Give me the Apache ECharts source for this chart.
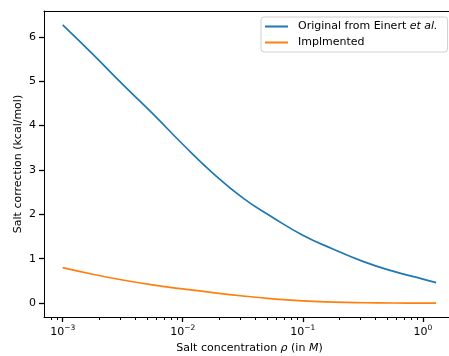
<!DOCTYPE html>
<html>
<head>
<meta charset="utf-8">
<script src="https://cdn.jsdelivr.net/npm/echarts@6/dist/echarts.min.js"></script>
<style>
html,body{margin:0;padding:0;background:#fff;}
#chart{width:449px;height:356px;}
</style>
</head>
<body>
<div id="chart"></div>
<script>
// Salt concentration (M)
const concentration = [0.001, 0.00178, 0.00316, 0.00562, 0.01, 0.0178, 0.0316, 0.0562, 0.1, 0.178, 0.316, 0.562, 1.0, 1.29];
// Salt correction (kcal/mol)
const originalEinert = [6.27, 5.61, 4.93, 4.27, 3.58, 2.93, 2.37, 1.93, 1.53, 1.22, 0.94, 0.72, 0.54, 0.46];
const implemented = [0.80, 0.65, 0.52, 0.41, 0.32, 0.235, 0.16, 0.097, 0.048, 0.022, 0.008, 0.002, 0.0, 0.0];
const seriesNames = ['Original from Einert et al.', 'Implmented'];
const xMajorTicks = [0.001, 0.01, 0.1, 1];
const xTickExponents = ['−3', '−2', '−1', '0'];
const xMinorTicks = [0.0008, 0.0009,
  0.002, 0.003, 0.004, 0.005, 0.006, 0.007, 0.008, 0.009,
  0.02, 0.03, 0.04, 0.05, 0.06, 0.07, 0.08, 0.09,
  0.2, 0.3, 0.4, 0.5, 0.6, 0.7, 0.8, 0.9];
const yTicks = [0, 1, 2, 3, 4, 5, 6];

const FONT = 'DejaVu Sans';
const FS = 11;
const chart = echarts.init(document.getElementById('chart'), null, {renderer: 'canvas'});
function pairs(xs, ys) { return xs.map((x, i) => [x, ys[i]]); }
const xMin = 0.000699, xMax = 1.852;
const yMin = -0.3135, yMax = 6.5835;

function tickSeries(values, len, width) {
  return {
    type: 'custom', coordinateSystem: 'cartesian2d', xAxisIndex: 0, yAxisIndex: 0,
    silent: true, clip: false, z: 10,
    data: values.map(v => [v, yMin]),
    renderItem: function (params, api) {
      const p = api.coord([api.value(0), api.value(1)]);
      const x = Math.round(p[0]) + 0.5;
      return {type: 'line', shape: {x1: x, y1: p[1], x2: x, y2: p[1] + len},
              style: {stroke: '#000', lineWidth: width}};
    }
  };
}

const spine = {show: true, onZero: false, lineStyle: {color: '#000', width: 1}};

chart.setOption({
  animation: false,
  backgroundColor: '#fff',
  grid: {left: 44, top: 11, width: 411, height: 306, show: false,
         containLabel: false, outerBoundsMode: 'none'},
  legend: {
    orient: 'vertical', left: 261, top: 17, padding: [4, 10, 4, 4], itemGap: 5,
    itemWidth: 23, itemHeight: 2, icon: 'rect',
    backgroundColor: 'rgba(255,255,255,0.8)',
    borderColor: '#d0d0d0', borderWidth: 1, borderRadius: 3,
    data: seriesNames,
    formatter: function (n) {
      if (n === seriesNames[0]) return '{n|Original from Einert }{i|et al.}';
      return '{n|' + n + '}';
    },
    textStyle: {
      fontFamily: FONT, fontSize: FS, color: '#000',
      padding: [0, 0, 0, 5],
      rich: {
        n: {fontFamily: FONT, fontSize: FS, color: '#000', lineHeight: 13},
        i: {fontFamily: FONT, fontSize: FS, fontStyle: 'italic', color: '#000', lineHeight: 13}
      }
    }
  },
  xAxis: [{
    type: 'log', logBase: 10, min: xMin, max: xMax, position: 'bottom',
    name: '{n|Salt concentration }{i|ρ}{n| (in }{i|M}{n|)}',
    nameLocation: 'middle', nameGap: 26, nameMoveOverlap: false,
    nameTextStyle: {
      rich: {
        n: {fontFamily: FONT, fontSize: FS, color: '#000'},
        i: {fontFamily: FONT, fontSize: FS, color: '#000', fontStyle: 'italic'}
      }
    },
    axisLine: spine,
    splitLine: {show: false},
    axisTick: {show: true, length: 5, lineStyle: {color: '#000', width: 1.3}, customValues: xMajorTicks},
    axisLabel: {
      customValues: xMajorTicks,
      margin: 7,
      formatter: function (v) {
        let idx = 0, best = 1e9;
        xMajorTicks.forEach((t, i) => { const d = Math.abs(Math.log10(t) - Math.log10(v)); if (d < best) { best = d; idx = i; } });
        return '{b|10}{s|' + xTickExponents[idx] + '}';
      },
      rich: {
        b: {fontFamily: FONT, fontSize: FS, color: '#000', lineHeight: 14, verticalAlign: 'bottom'},
        s: {fontFamily: FONT, fontSize: 7.5, color: '#000', lineHeight: 14, verticalAlign: 'top'}
      }
    }
  }, {
    type: 'log', logBase: 10, min: xMin, max: xMax, position: 'top',
    axisLine: spine, axisTick: {show: false}, axisLabel: {show: false}, splitLine: {show: false}
  }],
  yAxis: {
    type: 'value', min: yMin, max: yMax,
    name: 'Salt correction (kcal/mol)',
    nameLocation: 'middle', nameGap: 20, nameMoveOverlap: false,
    nameTextStyle: {fontFamily: FONT, fontSize: FS, color: '#000'},
    axisLine: spine,
    splitLine: {show: false},
    axisTick: {show: true, length: 5, lineStyle: {color: '#000', width: 1.3}, customValues: yTicks},
    axisLabel: {customValues: yTicks, fontFamily: FONT, fontSize: FS, color: '#000', margin: 8}
  },
  series: [{
    name: seriesNames[0], type: 'line', data: pairs(concentration, originalEinert),
    symbol: 'none', smooth: 0.5, lineStyle: {color: '#1f77b4', width: 1.7}, itemStyle: {color: '#1f77b4'}
  }, {
    name: seriesNames[1], type: 'line', data: pairs(concentration, implemented),
    symbol: 'none', smooth: 0.5, lineStyle: {color: '#ff7f0e', width: 1.7}, itemStyle: {color: '#ff7f0e'}
  },
  tickSeries(xMinorTicks, 3, 1)
  ]
});
</script>
</body>
</html>
